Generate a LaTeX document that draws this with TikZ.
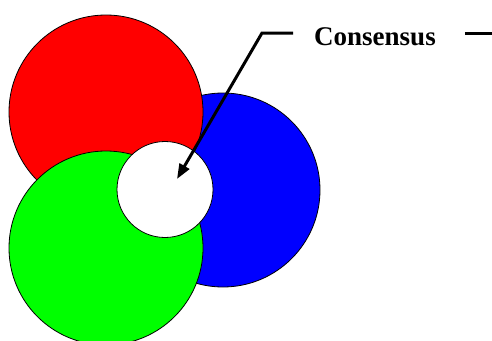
\documentclass[tikz,border=0pt]{standalone}
\usepackage{fontspec}
\setmainfont{Liberation Serif}
\usepackage{tikz}
\usetikzlibrary{arrows.meta,positioning}
\definecolor{setred}{RGB}{255,0,0}
\definecolor{setgreen}{RGB}{0,255,0}
\definecolor{setblue}{RGB}{0,0,255}
\begin{document}
\begin{tikzpicture}[x=1pt, y=-1pt, >=Stealth,
      disc/.style={draw, circle, line width=0.8pt, inner sep=0pt},
      lbl/.style={font=\fontsize{27}{30}\selectfont\bfseries, inner sep=0pt, anchor=base},
      arr/.style={->, line width=3pt, >={Triangle[length=15pt, width=11pt]}}
    ]
    \clip (0,0) rectangle (492,340);
    \fill[white] (0,0) rectangle (492,340);

    \node[disc, fill=setblue, minimum size=194pt] (blueset) at (223,190) {};
    \node[disc, fill=setred, minimum size=194pt] (redset) at (106,112) {};
    \node[disc, fill=setgreen, minimum size=194pt] (greenset) at (106,248) {};
    \node[disc, fill=white, minimum size=96pt] (core) at (165,189.5) {};

    \node[lbl] (cons) at (375,45) {Consensus};
    \coordinate (bend) at (262,33);
    \coordinate (tip) at (177,179);
    \coordinate (stub) at (492,33);

    \draw[arr] (bend -| cons.west) ++(-21,0) -- (bend) -- (tip);
    \draw[line width=3pt] ([xshift=29pt]bend -| cons.east) -- (stub);
  \end{tikzpicture}
\end{document}
